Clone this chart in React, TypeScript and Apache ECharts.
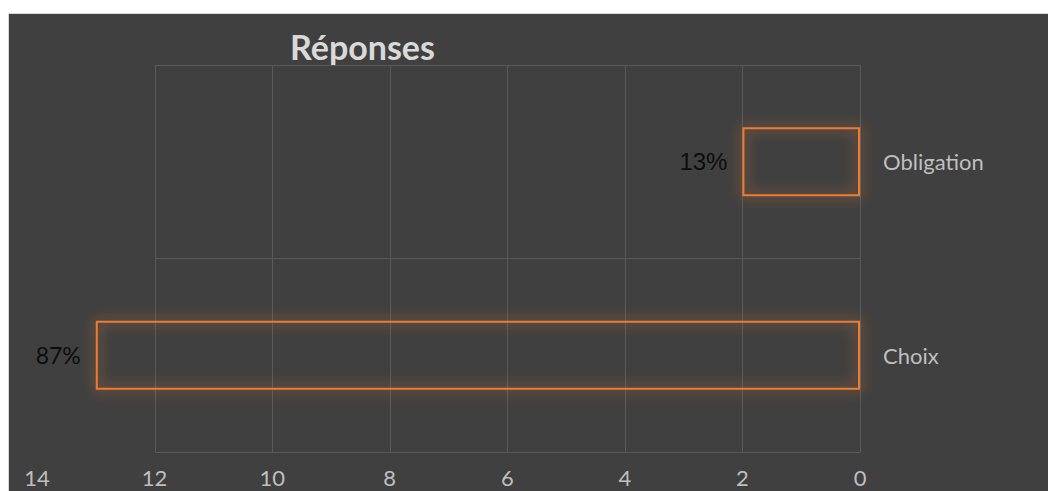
import React, { useEffect, useRef } from "react";
import * as echarts from "echarts";

const categories = ["Choix", "Obligation"];
const values = [13, 2];
const labelFonts = ["Lato", "Liberation Sans"];
const labelSizes = [23, 24];
const xMax = 14;
const xInterval = 2;
const gridMax = 12;
const titleText = "Réponses";

export default function App() {
  const ref = useRef<HTMLDivElement>(null);
  useEffect(() => {
    if (!ref.current) return;
    const chart = echarts.init(ref.current, null, { renderer: "svg" });
    const total = values.reduce((a, b) => a + b, 0);
    const gridColor = "#5a5a5a";
    const labelColor = "#bfbfbf";
    chart.setOption({
      animation: false,
      backgroundColor: "#404040",
      textStyle: { fontFamily: "Lato" },
      graphic: [
        {
          type: "text",
          x: 353.5,
          y: 32,
          style: {
            text: titleText,
            fontSize: 34,
            fontWeight: "bold",
            fontFamily: "Lato",
            fill: "#d9d9d9",
            textAlign: "center",
            textVerticalAlign: "middle",
          },
        },
      ],
      grid: [
        { left: 28, right: 188, top: 51, bottom: 39 },
        { left: 146, right: 188, top: 51, bottom: 39 },
      ],
      xAxis: [
        {
          gridIndex: 0,
          type: "value",
          min: 0,
          max: xMax,
          interval: xInterval,
          inverse: true,
          axisLine: { show: false },
          axisTick: { show: false },
          splitLine: { show: false },
          axisLabel: { color: labelColor, fontSize: 22, fontFamily: "Lato", margin: 14 },
        },
        {
          gridIndex: 1,
          type: "value",
          min: 0,
          max: gridMax,
          interval: xInterval,
          inverse: true,
          axisLine: { show: false },
          axisTick: { show: false },
          axisLabel: { show: false },
          splitLine: { show: true, lineStyle: { color: gridColor, width: 1 } },
        },
      ],
      yAxis: [
        {
          gridIndex: 0,
          type: "category",
          data: categories,
          position: "right",
          axisLine: { show: true, onZero: false, lineStyle: { color: gridColor } },
          axisTick: { show: false },
          splitLine: { show: false },
          axisLabel: { color: labelColor, fontSize: 22, fontFamily: "Lato", margin: 23, align: "left" },
        },
        {
          gridIndex: 1,
          type: "category",
          data: categories,
          position: "right",
          axisLine: { show: false },
          axisTick: { show: false },
          axisLabel: { show: false },
          splitLine: { show: true, lineStyle: { color: gridColor, width: 1 } },
        },
      ],
      series: [
        {
          type: "bar",
          xAxisIndex: 0,
          yAxisIndex: 0,
          barWidth: 69,
          data: values.map((v, i) => ({
            value: v,
            label: { fontFamily: labelFonts[i], fontSize: labelSizes[i] },
          })),
          itemStyle: {
            color: "rgba(64,64,64,0)",
            borderColor: "#ED7D31",
            borderWidth: 2,
            shadowBlur: 14,
            shadowColor: "#ED7D31",
          },
          label: {
            show: true,
            position: "left",
            distance: 15,
            color: "#0d0d0d",
            formatter: (p: any) => Math.round((p.value / total) * 100) + "%",
          },
        },
      ],
    });
    return () => chart.dispose();
  }, []);
  return (
    <div
      style={{
        position: "fixed",
        left: 8,
        top: 13,
        width: 1040,
        height: 478,
        boxSizing: "border-box",
        borderLeft: "1px solid #d9d9d9",
        borderTop: "1px solid #d9d9d9",
        background: "#404040",
      }}
    >
      <div ref={ref} style={{ width: 1039, height: 477 }} />
    </div>
  );
}
